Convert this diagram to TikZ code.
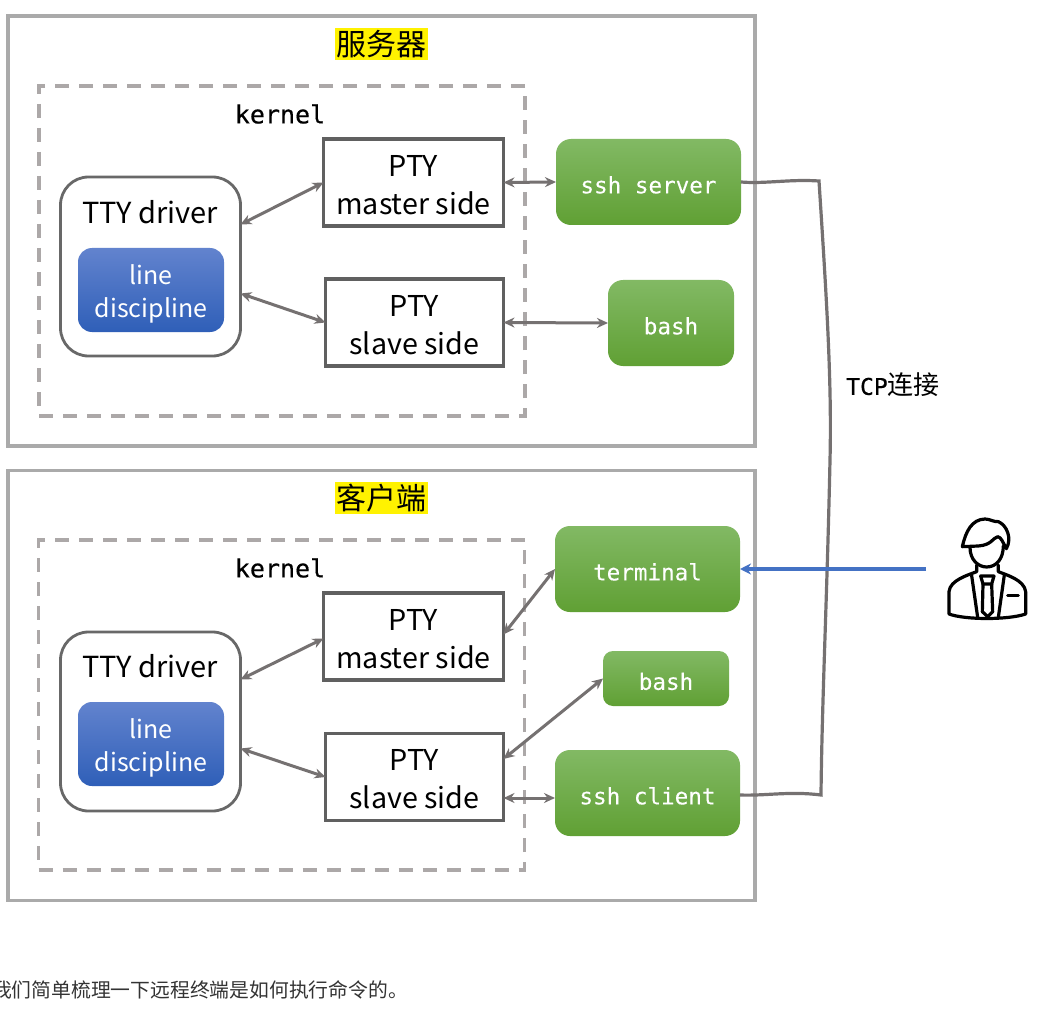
\documentclass[tikz,border=0pt]{standalone}
\usepackage{fontspec}
\setmainfont{Noto Sans CJK SC}
\newfontfamily\codefont[FakeBold=0.4]{DejaVu Sans Mono}
\newfontfamily\procfont[FakeBold=0.15]{DejaVu Sans Mono}
\usetikzlibrary{arrows.meta,calc}
\definecolor{framegray}{RGB}{170,170,170}
\definecolor{dashgray}{RGB}{172,168,168}
\definecolor{linegray}{RGB}{117,113,113}
\definecolor{boxgray}{RGB}{96,96,96}
\definecolor{userblue}{RGB}{68,114,196}
\definecolor{captionink}{RGB}{51,51,51}
\definecolor{blue1}{RGB}{98,131,206}
\definecolor{blue2}{RGB}{47,95,184}
\definecolor{green1}{RGB}{130,185,100}
\definecolor{green2}{RGB}{96,160,52}
\newcommand\toppad[1]{\rule{0pt}{#1}}
\tikzset{
  host/.style={draw=framegray, line width=3.5pt, fill=white, minimum width=747pt, minimum height=430pt, outer sep=0pt},
  kernelbox/.style={draw=dashgray, line width=3.5pt, dash pattern=on 14pt off 10pt, minimum width=486pt, minimum height=330pt, outer sep=0pt},
  ttybox/.style={draw=boxgray!95, line width=2.8pt, fill=white, rounded corners=28pt, minimum width=180pt, minimum height=179pt, outer sep=0pt},
  ptybox/.style={draw=boxgray, line width=3.5pt, fill=white, align=center, minimum height=87pt, inner sep=0pt, outer sep=0pt, font=\fontsize{28.7}{38}\selectfont},
  linebox/.style={rounded corners=14pt, top color=blue1, bottom color=blue2, text=white, align=center, minimum width=146pt, minimum height=84pt, inner sep=0pt, outer sep=0pt, font=\fontsize{25}{33}\selectfont},
  proc/.style={rounded corners=15pt, top color=green1, bottom color=green2, text=white, minimum height=#1, inner sep=0pt, outer sep=0pt, font=\procfont\fontsize{22.6}{26}\selectfont},
  proc/.default=86pt,
  title/.style={fill=yellow, inner sep=1pt, minimum width=93pt, minimum height=32pt, font=\fontsize{30}{32}\selectfont},
  kerneltxt/.style={font=\codefont\fontsize{25}{28}\selectfont},
  ttytxt/.style={font=\fontsize{29}{34}\selectfont},
  link/.style={{Stealth[length=11pt,width=10pt]}-{Stealth[length=11pt,width=10pt]}, line width=3pt, draw=linegray},
  tcp/.style={line width=3.2pt, draw=linegray},
  userarrow/.style={-{Stealth[length=11pt,width=11pt]}, line width=3.4pt, draw=userblue},
  usericon/.style={line width=3.2pt, draw=black, line cap=round, line join=round}
}
\begin{document}
\begin{tikzpicture}[x=1pt,y=-1pt]
  \useasboundingbox (0,0) rectangle (1050,1011);
  % server
  \node[host] (server) at (381.5,231) {};
  \node[title] (servertitle) at (381.5,44) {服务器};
  \node[kernelbox] (kernels) at (282,251) {};
  \node[kerneltxt] (kernelstxt) at (280,114) {kernel};
  \node[ttybox] (ttys) at (150.5,266.5) {};
  \node[ttytxt] (ttystxt) at (150,212) {TTY driver};
  \node[linebox] (lines) at (151,290) {\toppad{28pt}line\\discipline};
  \node[ptybox, minimum width=180pt] (masters) at (413.5,182.5) {\toppad{26pt}PTY\\master side};
  \node[ptybox, minimum width=178pt] (slaves) at (414.5,322.5) {\toppad{26pt}PTY\\slave side};
  \node[proc, minimum width=185pt] (sshserver) at (648.5,182) {\toppad{23pt}ssh server};
  \node[proc, minimum width=126pt] (bashs) at (671,323) {\toppad{23pt}bash};
  % client
  \node[host] (client) at (381.5,685.5) {};
  \node[title] (clienttitle) at (381,498) {客户端};
  \node[kernelbox] (kernelc) at (281.5,705) {};
  \node[kerneltxt] (kernelctxt) at (280,568) {kernel};
  \node[ttybox] (ttyc) at (150.5,721.5) {};
  \node[ttytxt] (ttyctxt) at (150,666) {TTY driver};
  \node[linebox] (linec) at (151,744) {\toppad{28pt}line\\discipline};
  \node[ptybox, minimum width=180pt] (masterc) at (413.5,636.5) {\toppad{26pt}PTY\\master side};
  \node[ptybox, minimum width=178pt] (slavec) at (414.5,777) {\toppad{26pt}PTY\\slave side};
  \node[proc, minimum width=185pt] (terminal) at (647.5,569) {\toppad{23pt}terminal};
  \node[proc=55pt, minimum width=126pt, rounded corners=10pt] (bashc) at (666,678.5) {\toppad{23pt}bash};
  \node[proc, minimum width=185pt] (sshclient) at (647.5,793) {\toppad{23pt}ssh client};
  % arrows
  \draw[link] ([yshift=42pt]ttys.east) -- (masters.west);
  \draw[link] ([yshift=-27pt]ttys.east) -- (slaves.west);
  \draw[link] (masters.east) -- (sshserver.west);
  \draw[link] (slaves.east) -- (bashs.west);
  \draw[link] ([yshift=42pt]ttyc.east) -- ([yshift=-2pt]masterc.west);
  \draw[link] ([yshift=-27pt]ttyc.east) -- (slavec.west);
  \draw[link] ([yshift=2pt]masterc.east) -- (terminal.west);
  \draw[link] ([yshift=18pt]slavec.east) -- (bashc.west);
  \draw[link] ([yshift=-21pt]slavec.east) -- ([yshift=-5pt]sshclient.west);
  \draw[tcp] (sshserver.east) .. controls (765,184) and (790,179) .. (819,181)
    .. controls (826,290) and (832,380) .. (830,460)
    .. controls (827,600) and (822,700) .. (821,795)
    .. controls (790,791) and (765,796) .. ([yshift=-2pt]sshclient.east);
  \node[font=\fontsize{26}{30}\selectfont, inner sep=0pt] (tcplabel) at (893,385) {{\codefont\fontsize{23}{30}\selectfont TCP}连接};
  \coordinate (userhand) at (926,569);
  \draw[userarrow] (userhand) -- (terminal.east);
  % user
  \begin{scope}[shift={(935,510)},scale=0.3333,usericon]
    \draw (82,110) .. controls (92,65) and (110,28) .. (150,27) .. controls (165,27) and (175,36) .. (190,35)
      .. controls (215,45) and (232,85) .. (214,116) .. controls (205,100) and (198,80) .. (188,80)
      .. controls (172,85) and (170,105) .. (130,108) -- cycle;
    \draw (105,112) .. controls (105,150) and (130,171) .. (155,171) .. controls (185,171) and (205,145) .. (205,108);
    \draw (125,165) -- (125,185) .. controls (100,195) and (45,210) .. (42,245) -- (42,312)
      .. controls (90,330) and (220,330) .. (272,312) -- (272,245) .. controls (268,210) and (215,195) .. (190,185) -- (190,165);
    \draw (110,197) -- (128,322);
    \draw (208,195) -- (190,322);
    \draw (137,198) -- (177,198) -- (170,222) -- (144,222) -- cycle;
    \draw (144,222) -- (142,305) -- (158,320) -- (173,305) -- (170,222);
    \draw (218,257) -- (250,257);
  \end{scope}
  % caption
  \node[anchor=west, inner sep=0pt, text=captionink, font=\fontsize{19.8}{24}\selectfont] (caption) at (-8,990) {我们简单梳理一下远程终端是如何执行命令的。};
\end{tikzpicture}
\end{document}
